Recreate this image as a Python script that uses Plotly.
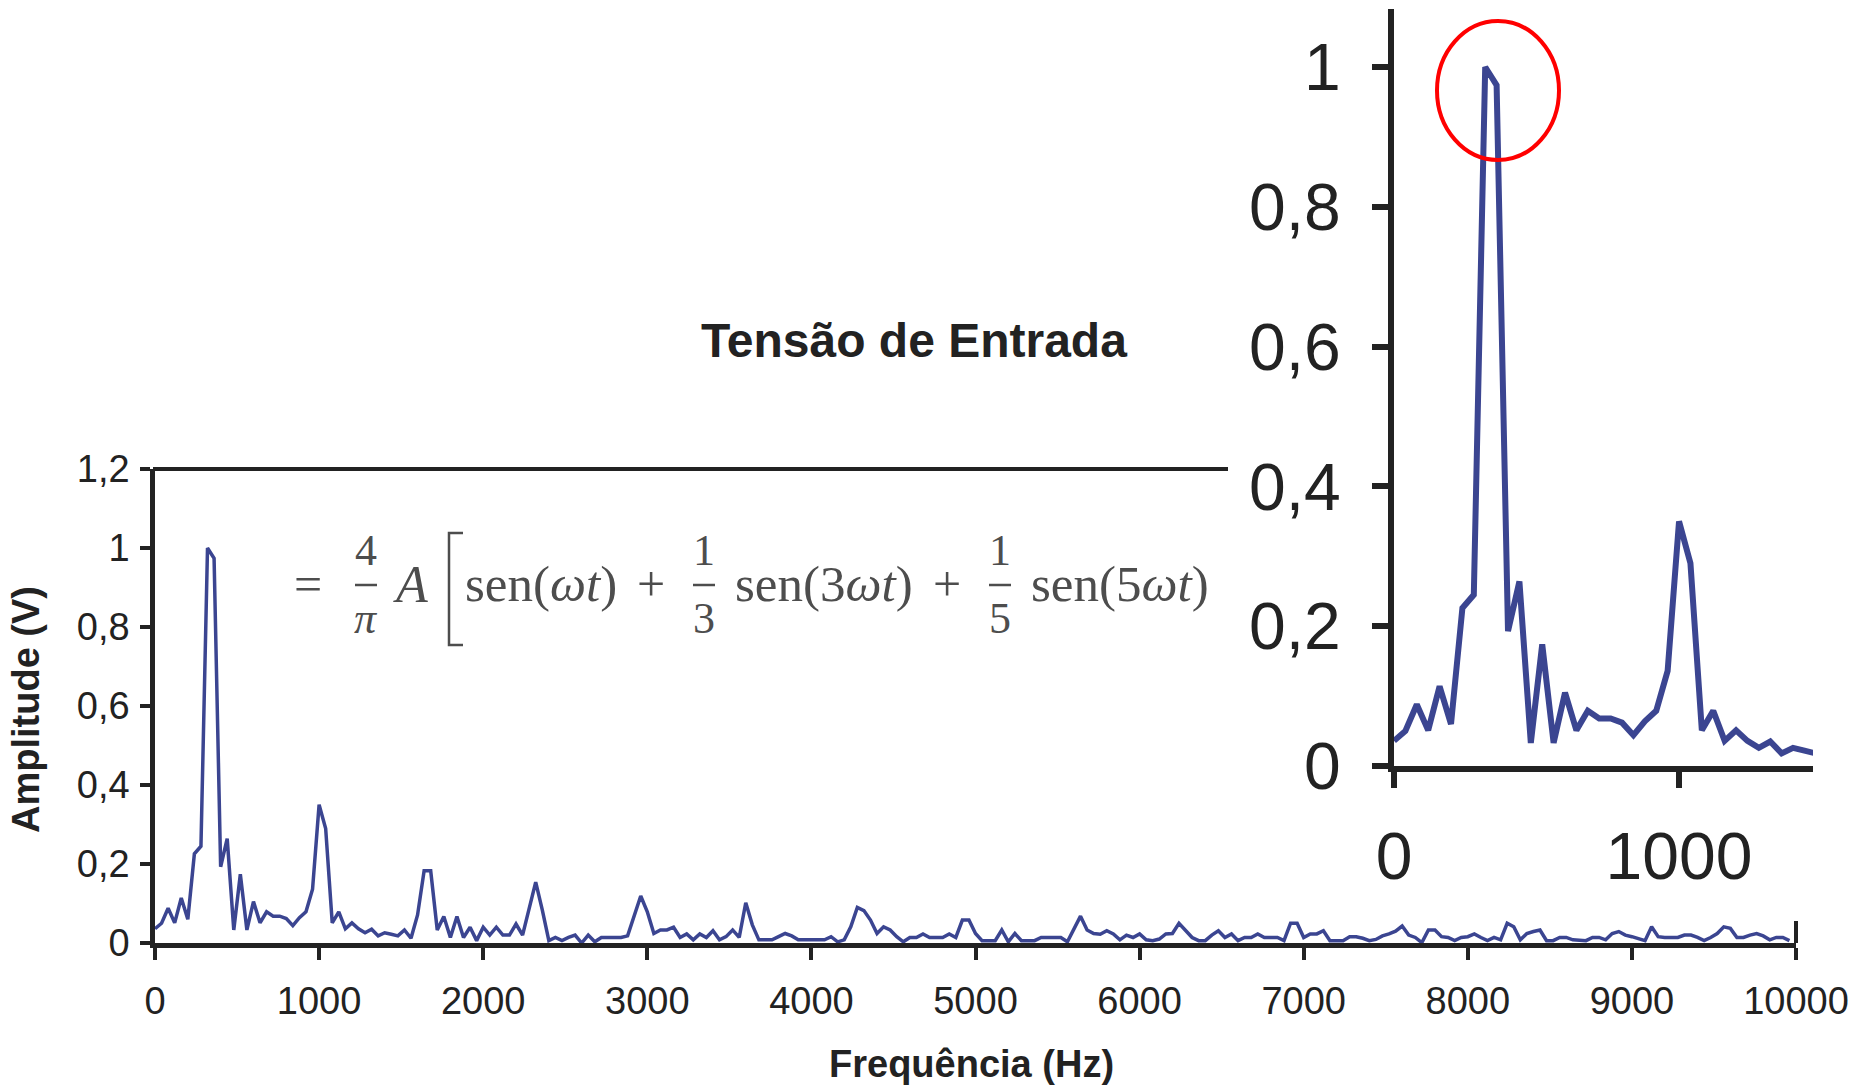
import plotly.graph_objects as go

# ---------------- data ----------------
passo_hz = 40  # frequency resolution of the spectrum (Hz)
amplitudes = [
    0.036, 0.050, 0.088, 0.051, 0.114, 0.060, 0.226, 0.245, 1.000, 0.974,
    0.193, 0.264, 0.033, 0.174, 0.033, 0.105, 0.051, 0.079, 0.068, 0.068,
    0.062, 0.044, 0.064, 0.079, 0.136, 0.350, 0.290, 0.051, 0.079, 0.036,
    0.051, 0.036, 0.026, 0.035, 0.018, 0.026, 0.022, 0.018, 0.033, 0.012,
    0.071, 0.183, 0.183, 0.033, 0.067, 0.014, 0.067, 0.014, 0.040, 0.006,
    0.040, 0.020, 0.040, 0.020, 0.020, 0.048, 0.020, 0.090, 0.154, 0.084,
    0.006, 0.014, 0.006, 0.014, 0.020, 0.000, 0.020, 0.003, 0.014, 0.014,
    0.014, 0.014, 0.018, 0.067, 0.119, 0.079, 0.024, 0.033, 0.033, 0.040,
    0.014, 0.023, 0.008, 0.023, 0.014, 0.031, 0.008, 0.016, 0.033, 0.014,
    0.102, 0.046, 0.008, 0.008, 0.008, 0.016, 0.024, 0.018, 0.008, 0.008,
    0.008, 0.008, 0.008, 0.016, 0.003, 0.008, 0.041, 0.090, 0.082, 0.058,
    0.024, 0.041, 0.033, 0.016, 0.003, 0.014, 0.014, 0.023, 0.014, 0.014,
    0.014, 0.023, 0.014, 0.058, 0.058, 0.024, 0.006, 0.006, 0.006, 0.033,
    0.003, 0.024, 0.006, 0.006, 0.006, 0.014, 0.014, 0.014, 0.014, 0.003,
    0.037, 0.068, 0.033, 0.024, 0.022, 0.031, 0.023, 0.008, 0.020, 0.014,
    0.023, 0.008, 0.006, 0.010, 0.023, 0.024, 0.050, 0.033, 0.014, 0.006,
    0.006, 0.020, 0.031, 0.014, 0.023, 0.006, 0.014, 0.014, 0.023, 0.014,
    0.014, 0.014, 0.006, 0.050, 0.050, 0.014, 0.023, 0.023, 0.031, 0.006,
    0.006, 0.006, 0.016, 0.016, 0.012, 0.006, 0.009, 0.018, 0.023, 0.030,
    0.043, 0.020, 0.014, 0.001, 0.033, 0.033, 0.016, 0.014, 0.006, 0.014,
    0.016, 0.023, 0.014, 0.006, 0.014, 0.008, 0.050, 0.041, 0.008, 0.024,
    0.029, 0.033, 0.006, 0.006, 0.014, 0.014, 0.008, 0.006, 0.006, 0.014,
    0.014, 0.008, 0.024, 0.029, 0.020, 0.016, 0.012, 0.006, 0.041, 0.016,
    0.014, 0.014, 0.014, 0.020, 0.020, 0.014, 0.006, 0.014, 0.024, 0.041,
    0.037, 0.014, 0.014, 0.020, 0.024, 0.018, 0.008, 0.014, 0.014, 0.006,
]
frequencias = [passo_hz * i for i in range(len(amplitudes))]

x_ticks_main = [0, 1000, 2000, 3000, 4000, 5000, 6000, 7000, 8000, 9000, 10000]
x_ticktext_main = ["0", "1000", "2000", "3000", "4000", "5000", "6000", "7000", "8000", "9000", "10000"]
y_ticks_main = [0, 0.2, 0.4, 0.6, 0.8, 1.0, 1.2]
y_ticktext_main = ["0", "0,2", "0,4", "0,6", "0,8", "1", "1,2"]

x_ticks_inset = [0, 1000]
x_ticktext_inset = ["0", "1000"]
y_ticks_inset = [0, 0.2, 0.4, 0.6, 0.8, 1.0]
y_ticktext_inset = ["0", "0,2", "0,4", "0,6", "0,8", "1"]

titulo = "Tensão de Entrada"
titulo_x = "Frequência (Hz)"
titulo_y = "Amplitude (V)"

# ---------------- layout helpers ----------------
W, H = 1856, 1091
def px(x):
    return x / W
def py(y):
    return 1 - y / H

LINE = "#3b4591"
AXC = "#222222"
SANS = "Liberation Sans, Arial, sans-serif"
SERIF = "Liberation Serif, DejaVu Serif, serif"
FORM = "#4d4d4d"

fig = go.Figure()
fig.add_trace(go.Scatter(x=frequencias, y=amplitudes, mode="lines",
                         line=dict(color=LINE, width=3.5), xaxis="x", yaxis="y",
                         showlegend=False, hoverinfo="x+y"))
fig.add_trace(go.Scatter(x=frequencias, y=amplitudes, mode="lines",
                         line=dict(color=LINE, width=6), xaxis="x2", yaxis="y2",
                         showlegend=False, hoverinfo="x+y"))

fig.update_layout(
    width=W, height=H,
    margin=dict(l=0, r=0, t=0, b=0, autoexpand=False),
    paper_bgcolor="white", plot_bgcolor="rgba(0,0,0,0)",
    showlegend=False,
    xaxis=dict(domain=[px(155), px(1796)], range=[0, 10000], anchor="y", automargin=False,
               tickmode="array", tickvals=x_ticks_main, ticktext=x_ticktext_main,
               showline=True, linewidth=4.5, linecolor=AXC, ticks="outside",
               ticklen=12, tickwidth=3.5, tickcolor=AXC, showgrid=False, zeroline=False,
               tickfont=dict(family=SANS, size=38, color=AXC), ticklabelstandoff=9),
    yaxis=dict(domain=[py(943), py(469)], range=[0, 1.2], anchor="x", automargin=False,
               tickmode="array", tickvals=y_ticks_main, ticktext=y_ticktext_main,
               showline=True, linewidth=4.5, linecolor=AXC, ticks="outside",
               ticklen=10, tickwidth=3.5, tickcolor=AXC, showgrid=False, zeroline=False,
               tickfont=dict(family=SANS, size=38, color=AXC), ticklabelstandoff=3),
    xaxis2=dict(domain=[px(1394), px(1813)], range=[0, 1470], anchor="y2", automargin=False,
                tickmode="array", tickvals=x_ticks_inset, ticktext=x_ticktext_inset,
                showline=True, linewidth=6, linecolor=AXC, ticks="outside",
                ticklen=16, tickwidth=6, tickcolor=AXC, showgrid=False, zeroline=False,
                tickfont=dict(family=SANS, size=66, color=AXC), ticklabelstandoff=12),
    yaxis2=dict(domain=[py(766), py(9)], range=[0, 1.083], anchor="x2", automargin=False,
                tickmode="array", tickvals=y_ticks_inset, ticktext=y_ticktext_inset,
                showline=True, linewidth=6, linecolor=AXC, ticks="outside",
                ticklen=16, tickwidth=6, tickcolor=AXC, showgrid=False, zeroline=False,
                tickfont=dict(family=SANS, size=66, color=AXC), ticklabelstandoff=18),
)

shapes = [
    # visible part of main chart frame
    dict(type="line", xref="paper", yref="paper", x0=px(153), x1=px(1228), y0=py(469), y1=py(469),
         line=dict(color=AXC, width=4)),
    dict(type="line", xref="paper", yref="paper", x0=px(1796), x1=px(1796), y0=py(921), y1=py(943),
         line=dict(color=AXC, width=4)),
    # red highlight ellipse
    dict(type="circle", xref="paper", yref="paper", x0=px(1437), x1=px(1559), y0=py(160), y1=py(21),
         line=dict(color="#ff0000", width=4)),
    # formula: bracket and fraction bars
    dict(type="path", xref="paper", yref="paper",
         path=f"M {px(463)} {py(533)} L {px(449)} {py(533)} L {px(449)} {py(645)} L {px(463)} {py(645)}",
         line=dict(color=FORM, width=2.5)),
    dict(type="line", xref="paper", yref="paper", x0=px(355), x1=px(377), y0=py(585), y1=py(585),
         line=dict(color=FORM, width=2.5)),
    dict(type="line", xref="paper", yref="paper", x0=px(693), x1=px(715), y0=py(585), y1=py(585),
         line=dict(color=FORM, width=2.5)),
    dict(type="line", xref="paper", yref="paper", x0=px(989), x1=px(1011), y0=py(585), y1=py(585),
         line=dict(color=FORM, width=2.5)),
]
fig.update_layout(shapes=shapes)

def ann(text, x, y, size, family=SERIF, color=FORM, angle=0):
    return dict(text=text, x=px(x), y=py(y), xref="paper", yref="paper",
                xanchor="center", yanchor="middle", showarrow=False, textangle=angle,
                font=dict(family=family, size=size, color=color))

annotations = [
    ann(f"<b>{titulo}</b>", 914, 341, 48, SANS, AXC),
    ann(f"<b>{titulo_x}</b>", 971, 1064, 38, SANS, AXC),
    ann(f"<b>{titulo_y}</b>", 26, 710, 38, SANS, AXC, -90),
    ann("=", 308, 584, 50),
    ann("4", 366, 550, 44),
    ann("<i>π</i>", 366, 618, 44),
    ann("<i>A</i>", 410, 584, 52),
    ann("sen(<i>ωt</i>)", 541, 584, 51),
    ann("+", 651, 584, 50),
    ann("1", 704, 550, 44),
    ann("3", 704, 618, 44),
    ann("sen(3<i>ωt</i>)", 824, 584, 51),
    ann("+", 947, 584, 50),
    ann("1", 1000, 550, 44),
    ann("5", 1000, 618, 44),
    ann("sen(5<i>ωt</i>)", 1120, 584, 51),
]
fig.update_layout(annotations=annotations)

fig.write_html("out.html")
